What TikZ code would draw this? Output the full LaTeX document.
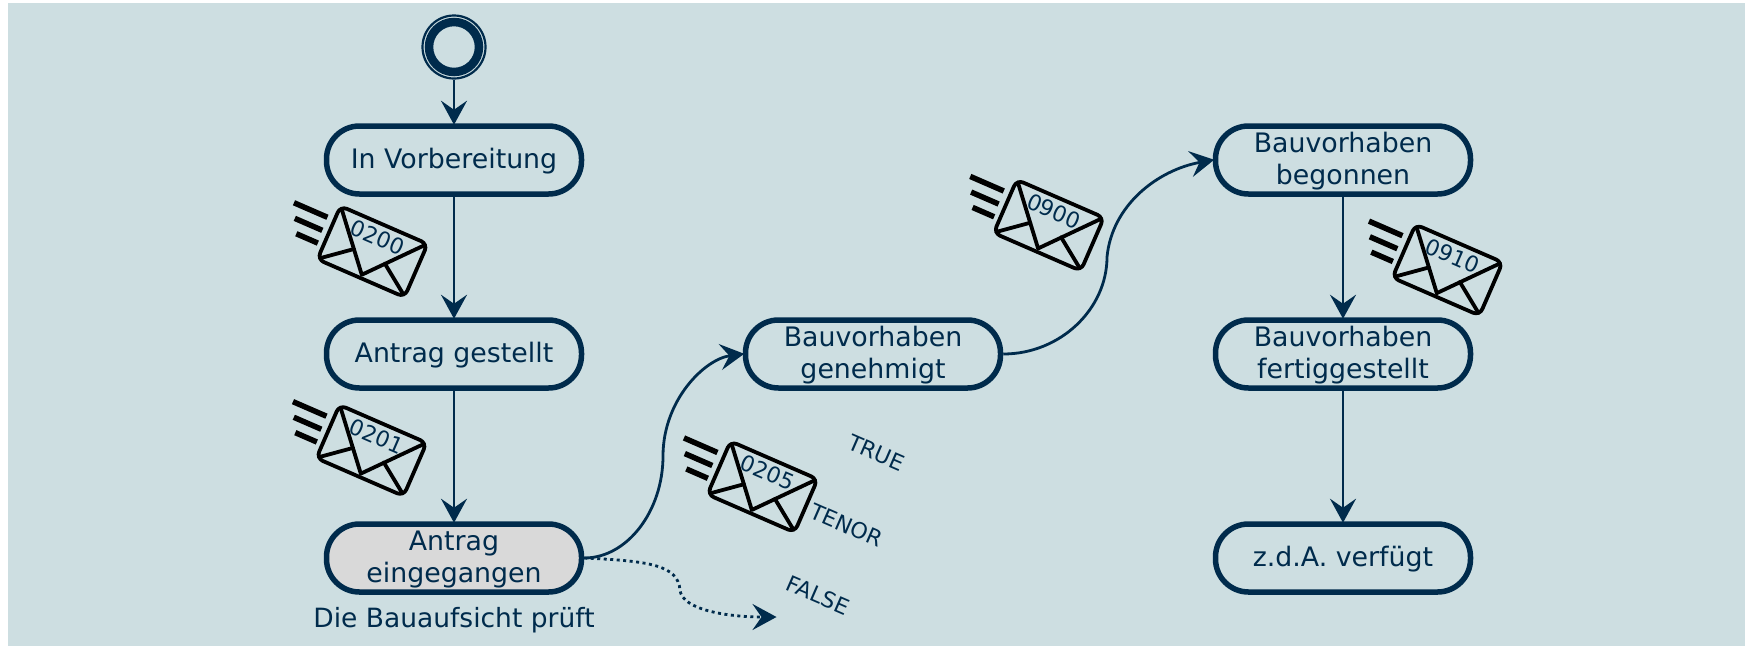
\documentclass[tikz,border=0pt]{standalone}
\usepackage{fontspec}
\setmainfont{DejaVu Sans}
\usetikzlibrary{arrows.meta}
\definecolor{bgblue}{HTML}{CDDEE1}
\definecolor{darkblue}{HTML}{002B4C}
\definecolor{stategray}{HTML}{D9D9D9}
\tikzset{state/.style={draw=darkblue,line width=5.5pt,rounded corners=33pt,minimum width=255pt,minimum height=68pt,
		inner sep=0pt,align=center,text=darkblue,text depth=2.5pt,font=\fontsize{26.8}{32}\selectfont},
	flow/.style={draw=darkblue,line width=2.8pt,shorten >=-1.5pt,-{Stealth[length=24pt,width=26pt,inset=9pt]}},
	note/.style={text=darkblue,font=\fontsize{22}{26}\selectfont,rotate=-23.5},
	mail/.pic={
		\begin{scope}[rotate=-23.5,transform shape,line width=3.8pt,line join=round,line cap=round]
			\draw[rounded corners=7pt] (-47.5,-29) rectangle (47.5,29);
			\draw (-45.5,-27) -- (-0.6,25.5) -- (45.5,-27);
			\draw (-45.5,27) -- (-18,5) (16,6) -- (45.5,27);
			\draw[line width=5.5pt,line cap=butt] (-91.5,-13.5) -- (-55,-13.5) (-84.5,0.5) -- (-54.5,0.5) (-77,14) -- (-53.5,14);
			\node[text=darkblue,font=\fontsize{22}{26}\selectfont,inner sep=0pt] at (-1,-15) {#1};
		\end{scope}
	}}

\begin{document}
\begin{tikzpicture}[x=1pt,y=-1pt]
  \useasboundingbox (0,0) rectangle (1750,646);
  \fill[bgblue] (8,3) rectangle (1745,646);

  \node[circle,draw=darkblue,line width=8.5pt,minimum size=50pt,inner sep=0pt] (s0) at (454,47) {};
  \node[circle,draw=darkblue,line width=2.2pt,minimum size=63pt,inner sep=0pt] (s1) at (454,47) {};
  \node[state] (n1) at (454,160) {In Vorbereitung};
  \node[state] (n2) at (454,354) {Antrag gestellt};
  \node[state,fill=stategray] (n3) at (454,558) {Antrag\\eingegangen};
  \node[state] (n4) at (873,354) {Bauvorhaben\\genehmigt};
  \node[state] (n5) at (1343,160) {Bauvorhaben\\begonnen};
  \node[state] (n6) at (1343,354) {Bauvorhaben\\fertiggestellt};
  \node[state] (n7) at (1343,558) {z.d.A. verfügt};
  \node[text=darkblue,font=\fontsize{26.5}{32}\selectfont] (n8) at (454,620) {Die Bauaufsicht prüft};

  \foreach \from/\to in {s1/n1,n1/n2,n2/n3,n5/n6,n6/n7}
    \draw[flow] (\from) -- (\to);

  \coordinate (m1) at (663,456);
  \coordinate (m2) at (1107,257);
  \coordinate (m3) at (680,590);
  \coordinate (f1) at (775,617);
  \draw[flow] (n3.east) .. controls +(43,0) and +(0,55) .. (m1)
    .. controls +(0,-56) and +(-38,5) .. (n4.west);
  \draw[flow] (n4.east) .. controls +(57,0) and +(0,52) .. (m2)
    .. controls +(5,-52) and +(-55,10) .. (n5.west);
  \draw[flow,dash pattern=on 3pt off 3.5pt] (n3.east) .. controls +(65,3) and +(-2,-25) .. (m3)
    .. controls +(2,20) and +(-47,0) .. (f1);

  \pic at (372.5,251.6) {mail=0200};
  \pic at (371.5,450.5) {mail=0201};
  \pic at (762.5,486.8) {mail=0205};
  \pic at (1048.8,225.3) {mail=0900};
  \pic at (1447.5,270) {mail=0910};

  \node[note] (t1) at (876.7,453) {TRUE};
  \node[note] (t2) at (846.5,525) {TENOR};
  \node[note] (t3) at (818,595.5) {FALSE};
\end{tikzpicture}
\end{document}
